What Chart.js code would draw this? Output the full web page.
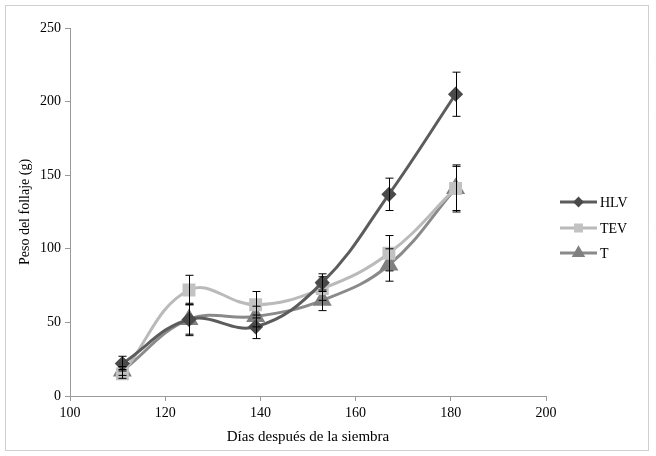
<!DOCTYPE html>
<html>
<head>
<meta charset="utf-8">
<script src="https://cdn.jsdelivr.net/npm/chart.js@4.4.1/dist/chart.umd.min.js"></script>
<style>
  html, body { margin: 0; padding: 0; background: #fff; }
  #wrap { width: 656px; height: 456px; }
</style>
</head>
<body>
<div id="wrap"><canvas id="c" width="656" height="456"></canvas></div>
<script>
// days after sowing
const days = [111, 125, 139, 153, 167, 181];

// foliage weight (g) per treatment
const hlv = [22, 52, 47, 77, 137, 205];
const tev = [15, 72, 62, 73, 97, 141];
const tt  = [17, 52, 54, 65, 89, 141];

// error bar half-widths (g)
const hlvErr = [5, 11, 8, 6, 11, 15];
const tevErr = [3, 10, 9, 8, 12, 16];
const ttErr  = [3, 10, 7, 7, 11, 15];

const xTicks = [100, 120, 140, 160, 180, 200];
const yTicks = [0, 50, 100, 150, 200, 250];

const FONT = 'Liberation Serif';

const toXY = (ys) => days.map((d, i) => ({ x: d, y: ys[i] }));

const series = [
  { label: 'HLV', data: hlv, err: hlvErr, line: '#5c5c5c', mark: '#4a4a4a', style: 'rectRot', r: 5.5 },
  { label: 'TEV', data: tev, err: tevErr, line: '#bababa', mark: '#c2c2c2', style: 'rect', r: 7 },
  { label: 'T',   data: tt,  err: ttErr,  line: '#8a8a8a', mark: '#808080', style: 'triangle', r: 8 }
];

// dotted frame around the whole picture
const framePlugin = {
  id: 'frame',
  beforeDraw(chart) {
    const c = chart.ctx;
    c.save();
    c.fillStyle = '#fff';
    c.fillRect(0, 0, chart.width, chart.height);
    c.strokeStyle = '#a0a0a0';
    c.lineWidth = 1;
    c.setLineDash([1, 1]);
    c.strokeRect(5.5, 5.5, 643, 445);
    c.restore();
  }
};

// vertical error bars with caps
const errorPlugin = {
  id: 'errbars',
  afterDatasetsDraw(chart) {
    const c = chart.ctx;
    const xs = chart.scales.x, ys = chart.scales.y;
    c.save();
    c.strokeStyle = '#000';
    c.lineWidth = 1;
    series.forEach((s) => {
      days.forEach((d, i) => {
        const px = Math.round(xs.getPixelForValue(d)) + 0.5;
        const top = ys.getPixelForValue(s.data[i] + s.err[i]);
        const bot = ys.getPixelForValue(s.data[i] - s.err[i]);
        c.beginPath();
        c.moveTo(px, top); c.lineTo(px, bot);
        c.moveTo(px - 4, top); c.lineTo(px + 4, top);
        c.moveTo(px - 4, bot); c.lineTo(px + 4, bot);
        c.stroke();
      });
    });
    c.restore();
  }
};

// Excel-style legend: line with marker in the middle
const legendPlugin = {
  id: 'xlLegend',
  afterDraw(chart) {
    const c = chart.ctx;
    const x0 = 560, x1 = 597;
    const rows = [202, 228, 253];
    c.save();
    series.forEach((s, i) => {
      const y = rows[i];
      c.strokeStyle = s.line;
      c.lineWidth = 3;
      c.beginPath(); c.moveTo(x0, y); c.lineTo(x1, y); c.stroke();
      c.fillStyle = s.mark;
      c.strokeStyle = s.mark;
      Chart.helpers.drawPoint(c, {
        pointStyle: s.style, radius: s.r * 0.6, borderWidth: 1, rotation: 0
      }, (x0 + x1) / 2, y);
      c.fillStyle = '#000';
      c.font = '14px "' + FONT + '"';
      c.textBaseline = 'middle';
      c.fillText(s.label, x1 + 3, y + 1);
    });
    c.restore();
  }
};

new Chart(document.getElementById('c'), {
  type: 'line',
  data: {
    datasets: series.map((s) => ({
      label: s.label,
      data: toXY(s.data),
      borderColor: s.line,
      backgroundColor: s.mark,
      pointBackgroundColor: s.mark,
      pointBorderColor: s.mark,
      pointStyle: s.style,
      pointRadius: s.r,
      borderWidth: 3,
      tension: 0.4,
      fill: false
    }))
  },
  options: {
    responsive: false,
    animation: false,
    devicePixelRatio: 1,
    layout: { padding: { left: 0, right: 110, top: 28, bottom: 0 } },
    scales: {
      x: {
        type: 'linear',
        min: 100, max: 200,
        afterBuildTicks: (s) => { s.ticks = xTicks.map((v) => ({ value: v })); },
        afterFit: (s) => { s.height = 60; },
        grid: { display: true, drawOnChartArea: false, tickLength: 5, color: '#9a9a9a' },
        border: { color: '#9a9a9a', width: 1 },
        ticks: { color: '#000', font: { family: FONT, size: 14 }, padding: 4, maxRotation: 0 },
        title: { display: true, text: 'Días después de la siembra', color: '#000', font: { family: FONT, size: 15 }, padding: { top: 4, bottom: 10 } }
      },
      y: {
        min: 0, max: 250,
        afterBuildTicks: (s) => { s.ticks = yTicks.map((v) => ({ value: v })); },
        afterFit: (s) => { s.width = 70; },
        grid: { display: true, drawOnChartArea: false, tickLength: 5, color: '#9a9a9a' },
        border: { color: '#9a9a9a', width: 1 },
        ticks: { color: '#000', font: { family: FONT, size: 14 }, padding: 4 },
        title: { display: true, text: 'Peso del follaje (g)', color: '#000', font: { family: FONT, size: 14 }, padding: { top: 17, bottom: 0 } }
      }
    },
    plugins: {
      legend: { display: false },
      tooltip: { enabled: false }
    }
  },
  plugins: [framePlugin, errorPlugin, legendPlugin]
});
</script>
</body>
</html>
